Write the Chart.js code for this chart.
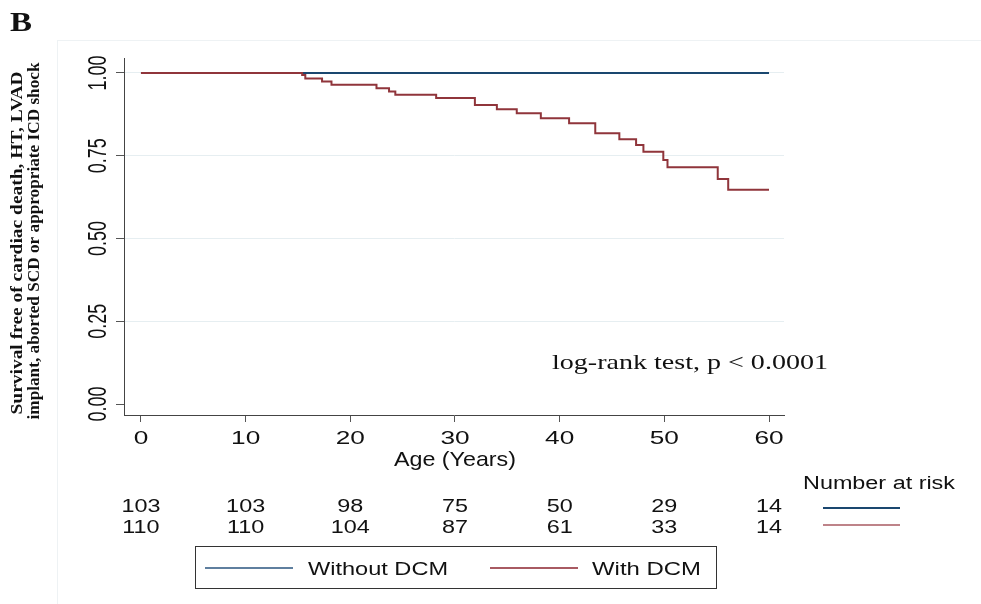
<!DOCTYPE html>
<html>
<head>
<meta charset="utf-8">
<script src="https://cdn.jsdelivr.net/npm/chart.js@4"></script>
<style>
  body { margin: 0; background: #fff; }
  canvas { display: block; }
</style>
</head>
<body>
<canvas id="km" width="981" height="604"></canvas>
<script>
// Kaplan-Meier data
const ageTicks = [0, 10, 20, 30, 40, 50, 60];
const survTicks = [0, 0.25, 0.5, 0.75, 1];
const survTickLabels = ['0.00', '0.25', '0.50', '0.75', '1.00'];

const seriesNames = ['Without DCM', 'With DCM'];
const seriesColors = ['#1a476f', '#90353b'];

const withoutAge = [0, 60];
const withoutSurv = [1, 1];

const withAge = [0, 15.4, 15.7, 17.3, 18.2, 22.5, 23.7, 24.3, 28.2, 31.9, 34.0, 35.9,
  38.2, 40.9, 43.4, 45.7, 47.3, 48.0, 49.9, 50.3, 55.1, 56.1, 60];
const withSurv = [1, 0.994, 0.983, 0.974, 0.964, 0.954, 0.944, 0.934, 0.924, 0.903, 0.890, 0.878,
  0.863, 0.848, 0.818, 0.800, 0.782, 0.762, 0.737, 0.715, 0.680, 0.647, 0.647];

const riskWithout = [103, 103, 98, 75, 50, 29, 14];
const riskWith = [110, 110, 104, 87, 61, 33, 14];

const SANS = '"Liberation Sans", Arial, sans-serif';
const SERIF = '"Liberation Serif", "Times New Roman", serif';

// draws text, optionally stretched to a target width / rotated
function txt(ctx, s, x, y, font, o = {}) {
  ctx.save();
  ctx.font = font;
  ctx.fillStyle = o.color || '#111';
  ctx.textAlign = o.align || 'left';
  ctx.textBaseline = 'alphabetic';
  ctx.translate(x, y);
  if (o.rot) ctx.rotate(o.rot);
  let sx = o.sx || 1;
  if (o.w) sx = o.w / ctx.measureText(s).width;
  ctx.scale(sx, o.sy || 1);
  ctx.fillText(s, 0, 0);
  ctx.restore();
}

function line(ctx, x1, y1, x2, y2, color, w) {
  ctx.save();
  ctx.strokeStyle = color;
  ctx.lineWidth = w;
  ctx.beginPath();
  ctx.moveTo(x1, y1);
  ctx.lineTo(x2, y2);
  ctx.stroke();
  ctx.restore();
}

const extras = {
  id: 'extras',
  beforeDraw(chart) {
    const ctx = chart.ctx;
    ctx.save();
    ctx.fillStyle = '#fff';
    ctx.fillRect(0, 0, chart.width, chart.height);
    ctx.strokeStyle = '#eef2f4';
    ctx.lineWidth = 1;
    ctx.strokeRect(57.5, 40.5, 990, 600);
    ctx.restore();
  },
  afterDraw(chart) {
    const ctx = chart.ctx;
    const xs = chart.scales.x, ys = chart.scales.y;

    txt(ctx, 'B', 10, 31, 'bold 28px ' + SERIF, { w: 22 });

    // y axis title (two rotated lines)
    txt(ctx, 'Survival free of cardiac death, HT, LVAD', 22, 243, 'bold 15px ' + SERIF,
      { rot: -Math.PI / 2, align: 'center', w: 343, sy: 1.15 });
    txt(ctx, 'implant, aborted SCD or appropriate ICD shock', 39, 241, 'bold 15px ' + SERIF,
      { rot: -Math.PI / 2, align: 'center', w: 357, sy: 1.15 });

    // y tick labels, rotated
    survTicks.forEach((v, i) => {
      txt(ctx, survTickLabels[i], 106, ys.getPixelForValue(v), '18px ' + SANS,
        { rot: -Math.PI / 2, align: 'center', sy: 1.45 });
    });

    // x tick labels
    ageTicks.forEach(v => {
      txt(ctx, String(v), xs.getPixelForValue(v), 444, '19px ' + SANS, { align: 'center', sx: 1.38 });
    });
    txt(ctx, 'Age (Years)', xs.getPixelForValue(30), 466, '21px ' + SANS, { align: 'center', w: 122 });

    // number at risk table
    txt(ctx, 'Number at risk', 803, 489, '18px ' + SANS, { w: 152 });
    ageTicks.forEach((v, i) => {
      const px = xs.getPixelForValue(v);
      txt(ctx, String(riskWithout[i]), px, 512, '18px ' + SANS, { align: 'center', sx: 1.3 });
      txt(ctx, String(riskWith[i]), px, 533, '18px ' + SANS, { align: 'center', sx: 1.3 });
    });
    line(ctx, 823, 508, 900, 508, seriesColors[0], 2);
    line(ctx, 823, 525, 900, 525, '#a85a62', 1.5);

    // legend box
    ctx.save();
    ctx.strokeStyle = '#333';
    ctx.lineWidth = 1;
    ctx.strokeRect(195.5, 546.5, 521, 42);
    ctx.restore();
    line(ctx, 205, 568, 293, 568, '#5f7f9f', 2);
    txt(ctx, seriesNames[0], 308, 575, '18px ' + SANS, { w: 140 });
    line(ctx, 490, 568, 578, 568, '#a85a62', 2);
    txt(ctx, seriesNames[1], 592, 575, '18px ' + SANS, { w: 109 });

    txt(ctx, 'log-rank test, p < 0.0001', 552, 369, '21px ' + SERIF, { w: 276 });
  }
};

new Chart(document.getElementById('km').getContext('2d'), {
  type: 'line',
  data: {
    datasets: [
      {
        label: seriesNames[1],
        data: withAge.map((a, i) => ({ x: a, y: withSurv[i] })),
        borderColor: seriesColors[1],
        borderWidth: 2,
        stepped: true,
        pointRadius: 0,
        order: 0,
      },
      {
        label: seriesNames[0],
        data: withoutAge.map((a, i) => ({ x: a, y: withoutSurv[i] })),
        borderColor: seriesColors[0],
        borderWidth: 2,
        stepped: true,
        pointRadius: 0,
        order: 1,
      },
    ],
  },
  options: {
    responsive: false,
    animation: false,
    layout: { padding: { left: 0, right: 197, top: 58, bottom: 0 } },
    plugins: { legend: { display: false }, tooltip: { enabled: false } },
    scales: {
      x: {
        type: 'linear',
        min: -1.62,
        max: 61.43,
        afterBuildTicks: s => { s.ticks = ageTicks.map(v => ({ value: v })); },
        afterFit: s => { s.height = 189; },
        ticks: { display: false },
        grid: { drawOnChartArea: false, tickLength: 7, tickColor: '#555' },
        border: { color: '#444', width: 1 },
      },
      y: {
        min: -0.033,
        max: 1.045,
        afterBuildTicks: s => { s.ticks = survTicks.map(v => ({ value: v })); },
        afterFit: s => { s.width = 124; },
        ticks: { display: false },
        grid: {
          tickLength: 8,
          tickColor: '#555',
          color: c => (c.tick && c.tick.value === 0 ? 'rgba(0,0,0,0)' : '#e6eef1'),
        },
        border: { color: '#444', width: 1 },
      },
    },
  },
  plugins: [extras],
});
</script>
</body>
</html>
